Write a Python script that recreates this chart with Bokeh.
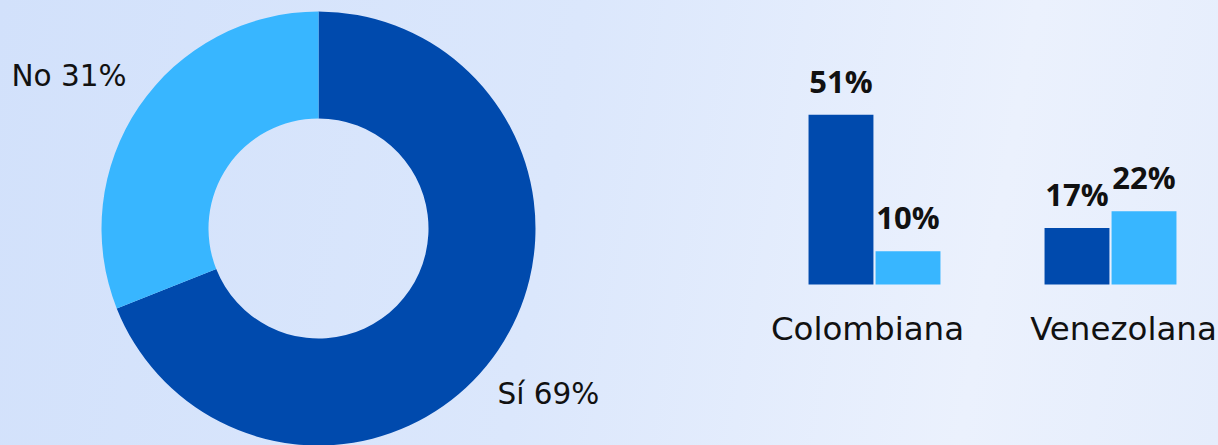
import numpy as np
from bokeh.plotting import figure
from bokeh.layouts import row
from bokeh.models import ColumnDataSource, Range1d
from bokeh.core.properties import value
from bokeh.embed import file_html
from bokeh.resources import INLINE

# ---- data ----
donut_labels = ["Sí", "No"]
donut_values = [69, 31]
donut_colors = ["#004AAD", "#38B6FF"]

categories = ["Colombiana", "Venezolana"]
serie_si = [51, 17]
serie_no = [10, 22]
bar_colors = ["#004AAD", "#38B6FF"]

FONT = "DejaVu Sans"
BOLD_FONT = "Open Sans"
TXT = "#111111"

# ---- donut ----
W1, H = 640, 445
p1 = figure(width=W1, height=H, x_range=Range1d(0, W1), y_range=Range1d(0, H),
            output_backend="svg", toolbar_location=None, min_border=0)
cx, cy, r_out, r_in = 318, 217, 217, 110
vals = np.array(donut_values, dtype=float)
frac = vals / vals.sum()
# Sí goes clockwise from 12 o'clock; No fills the rest
ang_si_start = np.pi / 2 - frac[0] * 2 * np.pi
starts = [ang_si_start, np.pi / 2]
ends = [np.pi / 2, np.pi / 2 + frac[1] * 2 * np.pi]
dsrc = ColumnDataSource(dict(start=starts, end=ends, color=donut_colors))
p1.annular_wedge(x=cx, y=cy, inner_radius=r_in, outer_radius=r_out,
                 start_angle="start", end_angle="end", fill_color="color",
                 line_color=None, source=dsrc)
lab = [f"{l} {v}%" for l, v in zip(donut_labels, donut_values)]
p1.text(x=[497, 11], y=[52, 370], text=lab, text_font=value(FONT),
        text_font_size="29.5px", text_color=TXT, text_baseline="middle",
        text_align="left", text_font_style="normal")

# ---- bars ----
W2 = 1218 - W1
p2 = figure(width=W2, height=H, x_range=Range1d(-0.9915, 1.4576),
            y_range=Range1d(-48.35, 85.29),
            output_backend="svg", toolbar_location=None, min_border=0)
xs = np.arange(len(categories))
off = 0.142
bw = 0.275
p2.vbar(x=xs - off, top=serie_si, width=bw, fill_color=bar_colors[0], line_color=None)
p2.vbar(x=xs + off, top=serie_no, width=bw, fill_color=bar_colors[1], line_color=None)
p2.text(x=xs - off, y=serie_si, text=[f"{v}%" for v in serie_si], text_font=value(BOLD_FONT),
        text_font_size="31px", text_font_style="bold", text_color=TXT,
        text_align="center", text_baseline="bottom", y_offset=-13)
p2.text(x=xs + off, y=serie_no, text=[f"{v}%" for v in serie_no], text_font=value(BOLD_FONT),
        text_font_size="31px", text_font_style="bold", text_color=TXT,
        text_align="center", text_baseline="bottom", y_offset=-13)
p2.text(x=xs, y=[0] * len(categories), text=categories, text_font=value(FONT),
        text_font_size="32.5px", text_color=TXT, text_align="center",
        text_baseline="middle", y_offset=44, x_offset=[-7, 13])

for p in (p1, p2):
    p.axis.visible = False
    p.grid.visible = False
    p.outline_line_color = None
    p.background_fill_color = None
    p.border_fill_color = None

layout = row(p1, p2, styles={"background": "linear-gradient(100deg, #d2e1fb 0%, #dbe7fc 45%, #ebf1fd 80%, #e5edfc 100%)"})
open("out.html", "w").write(file_html(layout, INLINE))
